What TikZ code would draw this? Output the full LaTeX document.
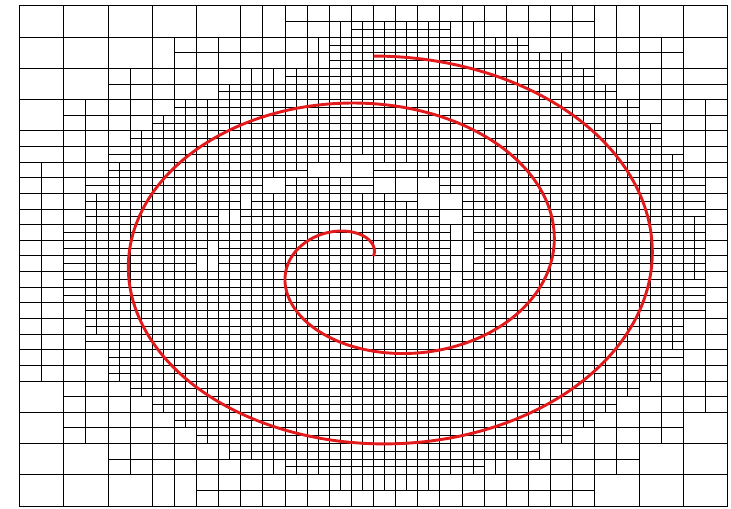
\documentclass[tikz,border=0pt]{standalone}
\usepackage{tikz}
\usepackage{xcolor}

\definecolor{spiralred}{RGB}{226,26,28}

% distance from the cell centre to the arm at angle #1
\newcommand{\armdist}[1]{%
  \pgfmathsetmacro\marg{#1}%
  \ifdim\marg pt<74.5pt\else\ifdim\marg pt>810pt\else
    \pgfmathsetmacro\mdist{min(\mdist,abs(\mrad-rho(\marg)))}%
  \fi\fi}

% wanted x and y levels at (#1,#2)
\newcommand{\meshlevel}[2]{%
  \pgfmathsetmacro\mdx{#1-0.5}%
  \pgfmathsetmacro\mdy{#2-0.5}%
  \pgfmathsetmacro\mrad{veclen(\mdx,\mdy)}%
  \pgfmathsetmacro\mang{mod(atan2(\mdy,\mdx)+360,360)}%
  \pgfmathsetmacro\mcos{abs(cos(\mang))}%
  \pgfmathsetmacro\msin{abs(sin(\mang))}%
  \ifdim\mang pt>90pt \pgfmathsetmacro\mout{rho(\mang+360)}%
  \else \pgfmathsetmacro\mout{rho(\mang+720)}\fi
  \ifdim\mrad pt<\mout pt
    \pgfmathsetmacro\mdist{\mrad}%
    \armdist{\mang}\armdist{\mang+360}\armdist{\mang+720}%
    \pgfmathtruncatemacro\mtx{1+(\mdist<0.1*(1+0.3*\mcos))}%
    \pgfmathtruncatemacro\mty{1+(\mdist<0.1*(1+0.3*\msin))}%
  \else
    \pgfmathsetmacro\mdist{min(\mrad-\mout,veclen(#1-0.5,#2-0.9))}%
    \pgfmathtruncatemacro\mtx{(\mdist<0.06*(1+0.4*\msin))+(\mdist<0.14*(1+0.4*\msin))}%
    \pgfmathtruncatemacro\mty{(\mdist<0.06*(1+0.4*\mcos))+(\mdist<0.14*(1+0.4*\mcos))}%
  \fi}

% cell with corner (#1,#2) in fine units, x level #3, y level #4
\newcommand{\meshcell}[4]{%
  \begingroup
  \edef\cw{\ifcase#3 4\or 2\else 1\fi}%
  \edef\ch{\ifcase#4 4\or 2\else 1\fi}%
  \pgfmathsetmacro\cu{(#1+\cw/2)/64}%
  \pgfmathsetmacro\cv{(#2+\ch/2)/64}%
  \meshlevel{\cu}{\cv}%
  \ifnum\mtx>#3 \edef\sx{1}\else\edef\sx{0}\fi
  \ifnum\mty>#4 \edef\sy{1}\else\edef\sy{0}\fi
  \ifnum\numexpr\sx+\sy\relax=0
    \def\next{\draw[meshline] ({#1/64},{#2/64}) rectangle ({(#1+\cw)/64},{(#2+\ch)/64});}%
  \else
    \edef\nlx{\the\numexpr#3+\sx\relax}%
    \edef\nly{\the\numexpr#4+\sy\relax}%
    \edef\xb{\the\numexpr#1+\cw/(1+\sx)\relax}%
    \edef\yb{\the\numexpr#2+\ch/(1+\sy)\relax}%
    \edef\next{%
      \noexpand\meshcell{#1}{#2}{\nlx}{\nly}%
      \ifnum\sx=1 \noexpand\meshcell{\xb}{#2}{\nlx}{\nly}\fi
      \ifnum\sy=1 \noexpand\meshcell{#1}{\yb}{\nlx}{\nly}\fi
      \ifnum\numexpr\sx*\sy\relax=1 \noexpand\meshcell{\xb}{\yb}{\nlx}{\nly}\fi}%
  \fi
  \next
  \endgroup}

\begin{document}
\begin{tikzpicture}[x=708bp,y=500bp,
  declare function={rho(\q)=0.4*sin(\q/9)-0.05*exp(-(\q-90)/108.9);},
  meshline/.style={line width=1bp,black},
  spiral/.style={line width=2.9bp,spiralred}]
  \useasboundingbox (-0.02754,-0.006) rectangle (1.00494,1.012);
  % adapted mesh
  \foreach \i in {0,...,15}
    \foreach \j in {0,...,15}
      {\edef\fx{\the\numexpr4*\i\relax}\edef\fy{\the\numexpr4*\j\relax}%
       \meshcell{\fx}{\fy}{0}{0}}
  % spiral
  \draw[spiral] plot[domain=74.5:810,samples=400,smooth,variable=\t]
    ({0.5+rho(\t)*cos(\t)},{0.5+rho(\t)*sin(\t)});
\end{tikzpicture}
\end{document}
